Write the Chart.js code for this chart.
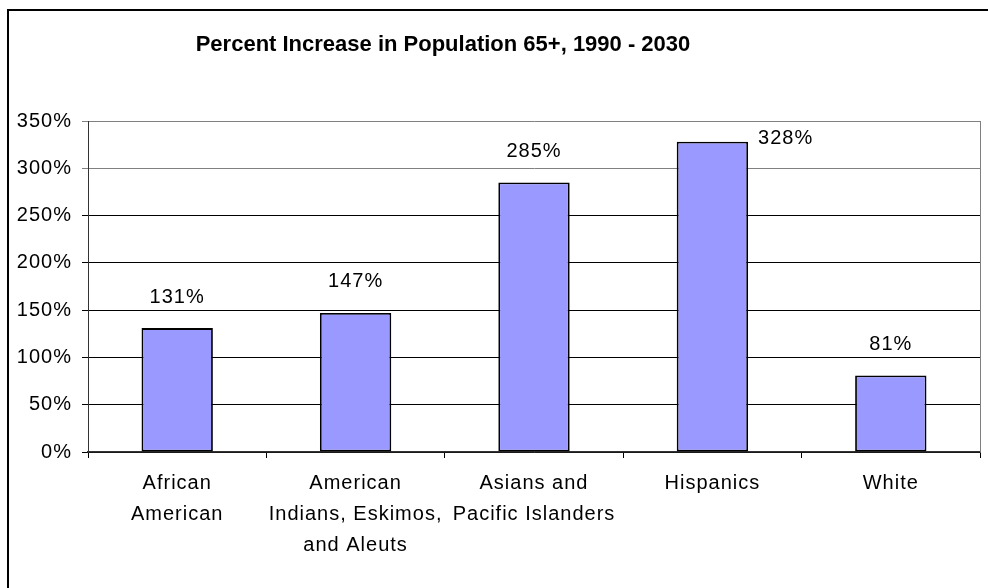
<!DOCTYPE html>
<html>
<head>
<meta charset="utf-8">
<script src="https://cdn.jsdelivr.net/npm/chart.js@4"></script>
<style>
  html, body { margin: 0; padding: 0; background: #fff; }
  #wrap { width: 988px; height: 588px; position: relative; }
</style>
</head>
<body>
<div id="wrap"><canvas id="chart" width="988" height="588"></canvas></div>
<script>
const titleText = "Percent Increase in Population 65+, 1990 - 2030";
const categories = [
    ["African", "American"],
    ["American", "Indians, Eskimos,", "and Aleuts"],
    ["Asians and", "Pacific Islanders"],
    ["Hispanics"],
    ["White"]
];
const percentIncrease = [131, 147, 285, 328, 81];
const yTicks = [0, 50, 100, 150, 200, 250, 300, 350];

const FONT = "'Liberation Sans', Arial, sans-serif";

// frame, title, plot border, value labels
const decorPlugin = {
    id: "decor",
    beforeLayout(chart) {
        chart.ctx.letterSpacing = "1px";
    },
    beforeDraw(chart) {
        const ctx = chart.ctx;
        ctx.save();
        ctx.fillStyle = "#fff";
        ctx.fillRect(0, 0, chart.width, chart.height);
        ctx.strokeStyle = "#000";
        ctx.lineWidth = 2;
        ctx.strokeRect(8, 10, 2000, 2000);
        ctx.letterSpacing = "0px";
        ctx.font = "bold 22px " + FONT;
        ctx.fillStyle = "#000";
        ctx.textAlign = "center";
        ctx.textBaseline = "middle";
        ctx.fillText(titleText, 443, 45);
        ctx.restore();
        ctx.letterSpacing = "1px";
    },
    afterDatasetsDraw(chart) {
        const ctx = chart.ctx;
        const area = chart.chartArea;
        const bars = chart.getDatasetMeta(0).data;
        ctx.save();
        // plot area right edge
        ctx.strokeStyle = "#808080";
        ctx.lineWidth = 1;
        ctx.beginPath();
        ctx.moveTo(Math.round(area.right) + 0.5, area.top);
        ctx.lineTo(Math.round(area.right) + 0.5, area.bottom);
        ctx.stroke();

        ctx.font = "20px " + FONT;
        ctx.fillStyle = "#000";
        ctx.textBaseline = "middle";
        bars.forEach((bar, i) => {
            const txt = percentIncrease[i] + "%";
            let y = bar.y - 31;
            if (y - 10 < area.top) {
                ctx.textAlign = "left";
                ctx.fillText(txt, bar.x + bar.width / 2 + 10, bar.y - 3);
            } else {
                ctx.textAlign = "center";
                ctx.fillText(txt, bar.x, y);
            }
        });
        ctx.restore();
    }
};

new Chart(document.getElementById("chart"), {
    type: "bar",
    data: {
        labels: categories,
        datasets: [{
            data: percentIncrease,
            backgroundColor: "#9999FF",
            borderColor: "#000",
            borderWidth: 1.8,
            borderSkipped: false,
            categoryPercentage: 1,
            barPercentage: 0.4
        }]
    },
    options: {
        responsive: false,
        animation: false,
        devicePixelRatio: 1,
        layout: { padding: { left: 0, top: 121, right: 8, bottom: 0 } },
        plugins: {
            legend: { display: false },
            title: { display: false },
            tooltip: { enabled: false }
        },
        scales: {
            x: {
                offset: true,
                grid: {
                    offset: true,
                    drawOnChartArea: false,
                    drawTicks: true,
                    tickLength: 6,
                    color: "#000"
                },
                border: { color: "#333", width: 1.5 },
                ticks: {
                    color: "#000",
                    font: { family: FONT, size: 20, lineHeight: 1.55 },
                    padding: 10,
                    maxRotation: 0,
                    autoSkip: false
                },
                afterFit(scale) { scale.height = 136; }
            },
            y: {
                min: 0,
                max: 350,
                afterBuildTicks(scale) {
                    scale.ticks = yTicks.map(v => ({ value: v }));
                },
                grid: {
                    color: ctx => (ctx.tick && ctx.tick.value >= 300) ? "#808080" : "#000",
                    lineWidth: 1,
                    drawTicks: true,
                    tickLength: 6
                },
                border: { color: "#333", width: 1 },
                ticks: {
                    color: "#000",
                    font: { family: FONT, size: 20 },
                    padding: 10,
                    callback: v => v + "%"
                },
                afterFit(scale) { scale.width = 88; }
            }
        }
    },
    plugins: [decorPlugin]
});
</script>
</body>
</html>
